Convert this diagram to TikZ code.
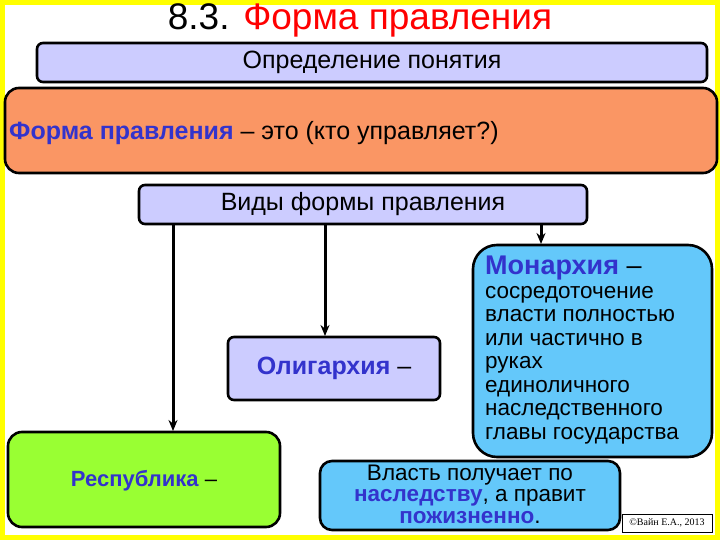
\documentclass[tikz,border=0pt]{standalone}
\usepackage{fontspec}
\usetikzlibrary{arrows.meta}
\setmainfont{Liberation Sans}
\newfontfamily\serf{Liberation Serif}
\definecolor{lav}{RGB}{204,204,255}
\definecolor{org}{RGB}{250,150,100}
\definecolor{sky}{RGB}{100,200,250}
\definecolor{grn}{RGB}{153,255,51}
\definecolor{ttl}{RGB}{51,51,204}
\definecolor{ylw}{RGB}{255,255,0}
\begin{document}
\begin{tikzpicture}[x=1pt,y=-1pt,
 bx/.style={draw=black,line width=2.6pt,rounded corners=6pt},
 ar/.style={line width=3pt,-{Stealth[length=11pt,width=9pt]}},
 t/.style={font=\fontsize{25}{28}\selectfont}]
\fill[ylw] (0,0) rectangle (720,540);
\fill[white] (5,5) rectangle (715,535);
\useasboundingbox (0,0) rectangle (720,540);
\node (title) at (360,20) {\fontsize{37}{40}\selectfont 8.3. \textcolor{red}{Форма правления}};
\draw[bx,fill=lav] (37,43) rectangle (707,82);
\node[t] (def) at (372,62) {Определение понятия};
\draw[bx,fill=org,rounded corners=14pt] (5,88) rectangle (717,173);
\node[t,anchor=west,inner sep=0pt] (fp) at (9,133) {\textcolor{ttl}{\textbf{Форма правления}} – это (кто управляет?)};
\draw[bx,fill=lav] (139,185) rectangle (587,224);
\node[t] (vid) at (363,204) {Виды формы правления};
\coordinate (v1) at (173,224);\coordinate (v2) at (325,224);\coordinate (v3) at (541,224);
\coordinate (r) at (173,431);\coordinate (o) at (325,336);\coordinate (m) at (541,244);
\draw[ar] (v1) -- (r);
\draw[ar] (v2) -- (o);
\draw[ar] (v3) -- (m);
\draw[bx,fill=lav] (228,337) rectangle (440,400);
\node[t] (ol) at (334,368) {\textcolor{ttl}{\textbf{Олигархия}} –};
\draw[bx,fill=sky,rounded corners=24pt] (473,245) rectangle (712,457);
\node[anchor=north west,align=left,font=\fontsize{22.5}{23.5}\selectfont,inner sep=0pt] (mon) at (485,256)
 {\fontsize{27}{28}\selectfont\textcolor{ttl}{\textbf{Монархия}} –\\сосредоточение\\власти полностью\\или частично в\\руках\\единоличного\\наследственного\\главы государства};
\draw[bx,fill=grn,rounded corners=14pt] (8,432) rectangle (280,527);
\node[font=\fontsize{22}{24}\selectfont] (rep) at (144,481) {\textcolor{ttl}{\textbf{Республика}} –};
\draw[bx,fill=sky,rounded corners=12pt] (320,461) rectangle (620,530);
\node[align=center,font=\fontsize{22.5}{21.5}\selectfont] (vl) at (470,494) {Власть получает по\\\textcolor{ttl}{\textbf{наследству}}, а правит\\\textcolor{ttl}{\textbf{пожизненно}}.};
\draw[line width=1pt,fill=white] (622,514) rectangle (712,532);
\node[font=\serf\fontsize{10}{11}\selectfont] (cp) at (667,523) {©Вайн Е.А., 2013};
\end{tikzpicture}
\end{document}
